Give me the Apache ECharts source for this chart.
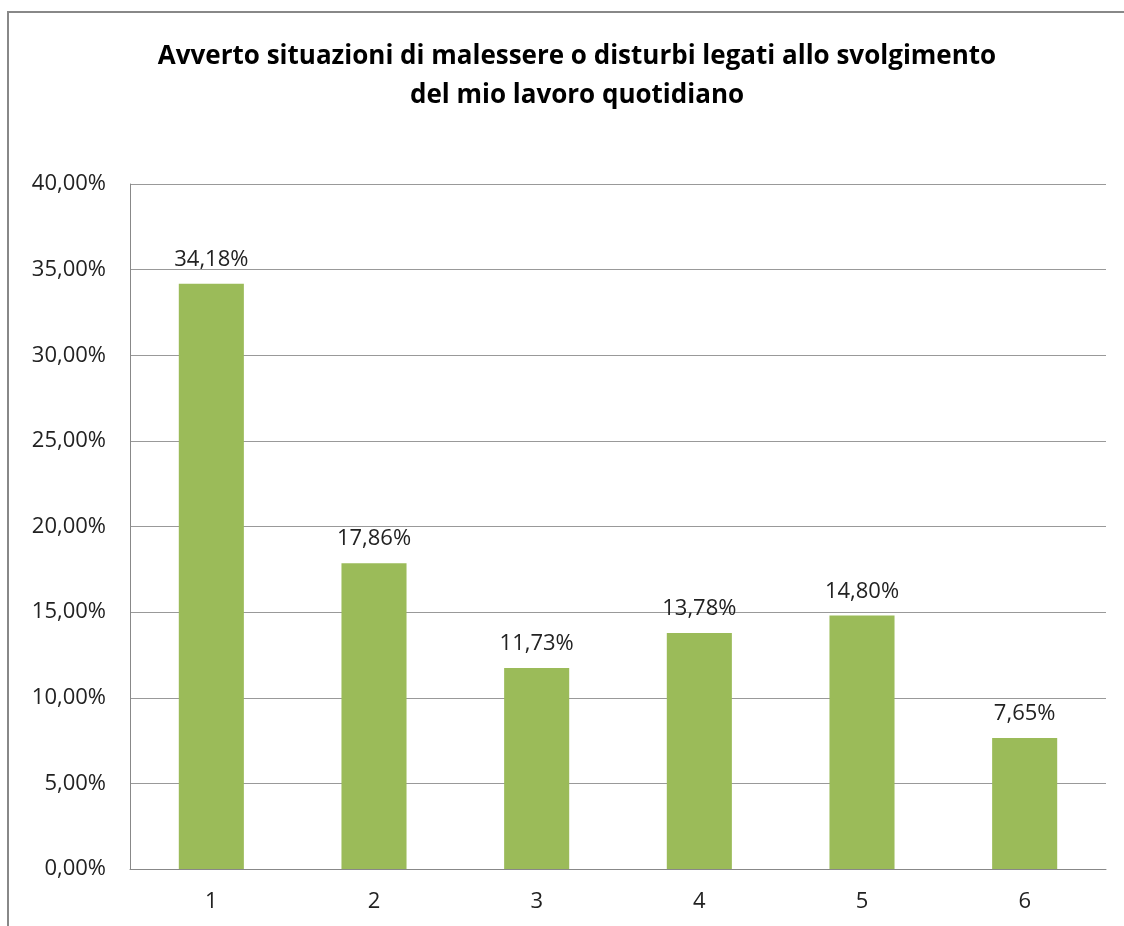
<!DOCTYPE html>
<html>
<head>
<meta charset="utf-8">
<script src="https://cdn.jsdelivr.net/npm/echarts@6/dist/echarts.min.js"></script>
<style>
  html, body { margin: 0; padding: 0; background: #fff; }
  #chart { width: 1124px; height: 926px; }
</style>
</head>
<body>
<div id="chart"></div>
<script>
var categories = ['1', '2', '3', '4', '5', '6'];
var values = [34.18, 17.86, 11.73, 13.78, 14.80, 7.65];
var titleText = 'Avverto situazioni di malessere o disturbi legati allo svolgimento\ndel mio lavoro quotidiano';

function pct(v) {
    return v.toFixed(2).replace('.', ',') + '%';
}

var chart = echarts.init(document.getElementById('chart'));

chart.setOption({
    animation: false,
    title: {
        text: titleText,
        left: 572,
        top: 32,
        textAlign: 'center',
        textStyle: {
            fontFamily: 'Open Sans',
            fontWeight: 'bold',
            fontSize: 26,
            lineHeight: 39,
            color: '#000'
        }
    },
    graphic: [{
        type: 'rect',
        shape: { x: 8, y: 12, width: 1300, height: 1100 },
        style: { fill: 'none', stroke: '#888', lineWidth: 2 },
        silent: true
    }],
    grid: { left: 130, right: 18, top: 184, bottom: 57 },
    xAxis: {
        type: 'category',
        data: categories,
        axisLine: { lineStyle: { color: '#888' } },
        axisTick: { show: false },
        axisLabel: { color: '#222', fontFamily: 'Open Sans', fontSize: 22, margin: 22 }
    },
    yAxis: {
        type: 'value',
        min: 0,
        max: 40,
        interval: 5,
        axisLine: { show: true, lineStyle: { color: '#888' } },
        axisTick: { show: false },
        splitLine: { lineStyle: { color: '#999' } },
        axisLabel: {
            color: '#222',
            fontFamily: 'Open Sans',
            fontSize: 22,
            margin: 24,
            formatter: pct
        }
    },
    series: [{
        type: 'bar',
        data: values,
        barWidth: '40%',
        itemStyle: { color: '#9BBB59' },
        label: {
            show: true,
            position: 'top',
            distance: 13,
            color: '#222',
            fontFamily: 'Open Sans',
            fontSize: 22,
            formatter: function (p) { return pct(p.value); }
        }
    }]
});
</script>
</body>
</html>
